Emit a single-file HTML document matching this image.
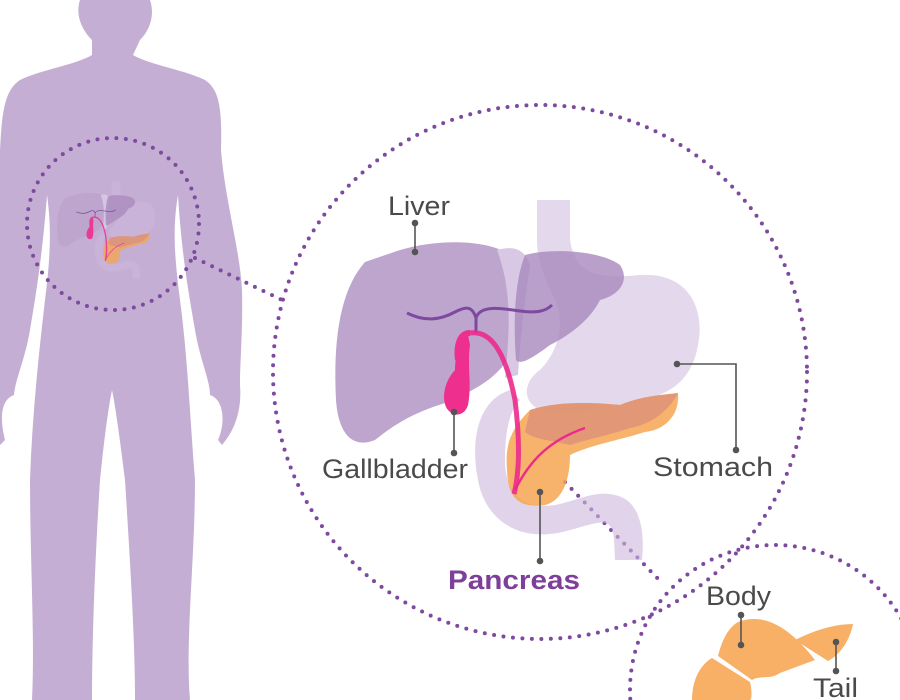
<!DOCTYPE html>
<html><head><meta charset="utf-8"><style>
html,body{margin:0;padding:0;background:#fff;width:900px;height:700px;overflow:hidden;}
svg{display:block;}
text{font-family:"Liberation Sans",sans-serif;}
</style></head><body>
<svg width="900" height="700" viewBox="0 0 900 700" xmlns="http://www.w3.org/2000/svg">
<defs>
<g id="org">
  <path d="M537,200 L570,200 L570,240 C575,270 590,280 640,275 C690,272 705,310 698,345 C692,380 670,395 640,400 C610,410 560,415 540,410 C520,400 525,380 540,370 C560,350 565,320 555,300 C545,280 537,260 537,240 Z" fill="#cdb8dc" opacity="0.55"/>
  <path d="M510,390 C478,400 470,440 478,480 C485,520 520,545 570,530 C600,522 612,515 614,540 L615,560 L642,560 C645,530 640,500 615,495 C595,490 580,500 555,505 C520,510 505,490 505,460 C505,430 510,410 520,400 Z" fill="#cdb8dc" opacity="0.6"/>
  <path d="M400,250 C440,238 490,240 510,255 C520,280 515,330 512,350 C500,380 470,390 455,400 C420,410 400,420 375,440 C350,450 338,430 336,400 C333,340 340,290 365,262 Z" fill="#bea5cd"/>
  <path d="M497,250 C515,245 525,250 530,265 C525,300 520,340 518,375 L505,378 C510,330 512,290 497,250 Z" fill="#d8c8e3"/>
  <path d="M525,255 C550,248 600,250 620,265 C630,280 620,295 600,300 C590,320 570,335 550,345 C530,360 520,365 516,360 C513,320 515,280 525,255 Z" fill="#a788bd" opacity="0.8"/>
  <path d="M407,313 C425,322 440,320 455,312 C465,307 472,305 476,318 C480,305 500,308 520,311 C535,313 545,312 552,305" fill="none" stroke="#7e4aa0" stroke-width="3"/>
  <path d="M476,318 L476,333" stroke="#7e4aa0" stroke-width="3"/>
  <path d="M530,410 C560,400 600,403 620,405 C645,395 665,395 678,393 C680,415 665,430 645,432 C620,440 590,445 570,455 C570,475 565,500 545,505 C520,508 508,500 507,470 C505,445 510,430 530,410 Z" fill="#f6a652" opacity="0.85"/>
  <path d="M530,410 C560,400 600,403 620,405 C645,395 665,395 678,393 C670,410 650,425 630,428 C610,435 585,440 570,445 C550,440 535,440 525,432 Z" fill="#d88c7a" opacity="0.7"/>
  <path d="M470,333 C490,330 505,350 515,400 C520,440 520,470 514,494" fill="none" stroke="#ec2a8c" stroke-width="5" opacity="0.9"/>
  <path d="M515,490 C530,460 550,440 585,428" fill="none" stroke="#ec2a8c" stroke-width="2.5"/>
  <path d="M468,335 C460,340 455,355 455,370 C445,380 440,400 448,410 C455,418 465,415 468,405 C472,385 467,365 470,345 Z" fill="#ee2f8d"/>
  <path d="M470,333 C460,333 456,345 458,360" fill="none" stroke="#ee2f8d" stroke-width="6"/>
</g>
</defs>

<path d="M80,0 L150,0 C155,15 150,30 140,40 L133,55 C150,65 185,70 205,80 C220,90 222,110 221,150 C225,200 240,250 242,290 C243,330 240,360 240,385 C242,410 235,430 222,445 L218,440 C225,425 225,400 210,395 C210,380 200,360 195,330 C190,300 182,260 178,195 C172,230 175,260 180,300 C188,360 190,420 195,480 C195,560 185,640 190,700 L135,700 C135,640 130,560 125,480 C120,440 116,410 112,390 C108,410 104,440 100,480 C95,560 92,640 92,700 L32,700 C35,640 30,560 30,480 C32,420 38,360 45,300 C50,260 52,230 47,195 C42,260 35,300 30,330 C25,360 15,380 14,395 C0,400 0,420 5,440 L0,445 L0,150 C2,110 5,90 20,80 C40,70 75,65 92,55 L92,40 C82,30 75,15 80,0 Z" fill="#c5aed3"/>

<g opacity="0.9"><use href="#org" transform="translate(57,180) scale(0.27) translate(-335,-195)"/></g>

<g fill="none" stroke="#7e4aa0" stroke-width="4" stroke-linecap="round" stroke-dasharray="0 9.5">
  <circle cx="113" cy="224" r="86"/>
  <circle cx="540" cy="372" r="267"/>
  <circle cx="775" cy="690" r="145"/>
  <path d="M195,258 L282,300"/>
  <path d="M565,482 L662,583"/>
</g>

<use href="#org"/>

<g fill="#f8b066">
  <path d="M738,622 C765,612 790,628 815,660 L780,673 C770,680 760,675 752,680 L718,656 C722,640 728,628 738,622 Z"/>
  <path d="M795,640 C815,630 835,624 853,624 C850,640 840,655 828,661 Z"/>
  <path d="M712,658 L750,682 C752,690 752,700 750,700 L692,700 C692,680 700,665 712,658 Z"/>
</g>

<g stroke="#555" stroke-width="1.6" fill="#555">
  <line x1="415" y1="223" x2="415" y2="252"/><circle cx="415" cy="223" r="2.5"/><circle cx="415" cy="252" r="2.5"/>
  <line x1="454" y1="412" x2="454" y2="453"/><circle cx="454" cy="412" r="2.5"/><circle cx="454" cy="453" r="2.5"/>
  <line x1="540" y1="492" x2="540" y2="561"/><circle cx="540" cy="492" r="2.5"/><circle cx="540" cy="561" r="2.5"/>
  <polyline points="677,364 736,364 736,450" fill="none"/><circle cx="677" cy="364" r="2.5"/><circle cx="736" cy="450" r="2.5"/>
  <line x1="741" y1="615" x2="741" y2="645"/><circle cx="741" cy="615" r="2.5"/><circle cx="741" cy="645" r="2.5"/>
  <line x1="836" y1="642" x2="836" y2="671"/><circle cx="836" cy="642" r="2.5"/><circle cx="836" cy="671" r="2.5"/>
</g>

<g fill="#4a4a4a" font-size="27">
  <text x="388" y="215" textLength="62" lengthAdjust="spacingAndGlyphs">Liver</text>
  <text x="322" y="478" textLength="146" lengthAdjust="spacingAndGlyphs">Gallbladder</text>
  <text x="653" y="476" textLength="120" lengthAdjust="spacingAndGlyphs">Stomach</text>
  <text x="706" y="605" textLength="65" lengthAdjust="spacingAndGlyphs">Body</text>
  <text x="813" y="697" textLength="45" lengthAdjust="spacingAndGlyphs">Tail</text>
</g>
<text x="448" y="589" font-size="27" font-weight="bold" fill="#7e3f9b" textLength="132" lengthAdjust="spacingAndGlyphs">Pancreas</text>
</svg>
</body></html>
